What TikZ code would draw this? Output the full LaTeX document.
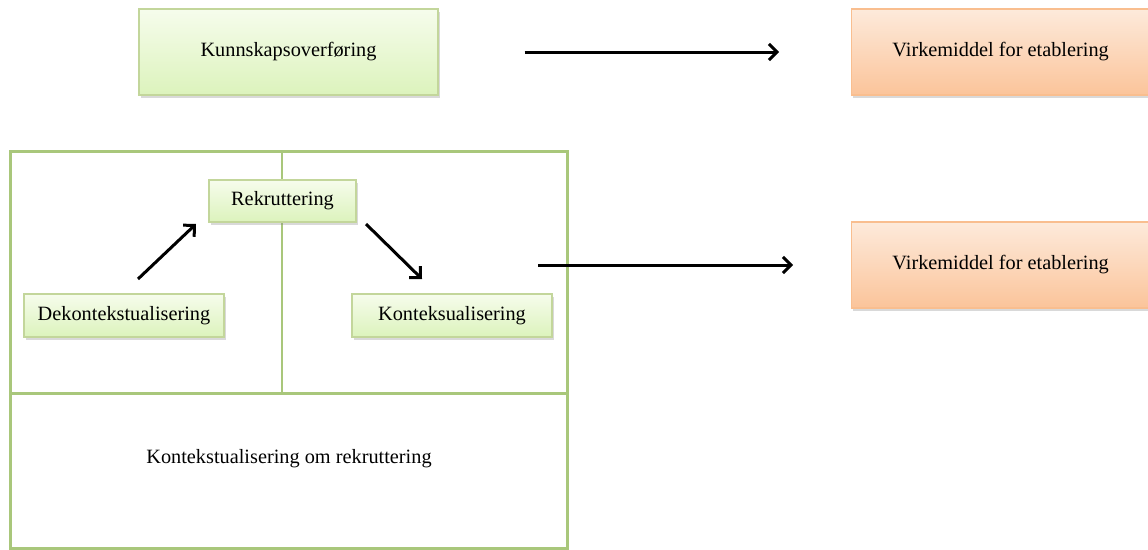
\documentclass[tikz,border=0pt]{standalone}
\usepackage{fontspec}
\setmainfont{Liberation Serif}
\usetikzlibrary{arrows.meta,shadows,calc}
\definecolor{gbord}{HTML}{C3D69B}
\definecolor{gtop}{HTML}{F6FCEC}
\definecolor{gbot}{HTML}{DCF3BC}
\definecolor{obord}{HTML}{F9BE8F}
\definecolor{otop}{HTML}{FDEADB}
\definecolor{obot}{HTML}{FBC49A}
\definecolor{frameg}{HTML}{A9C77B}
\tikzset{
  txt/.style={font=\fontsize{20.3}{23}\selectfont},
  gbox/.style={txt, draw=gbord, line width=1.2pt, top color=gtop, bottom color=gbot,
    drop shadow={shadow xshift=1.5pt, shadow yshift=-2.5pt, opacity=0.3, fill=gray},
    inner sep=0pt},
  obox/.style={txt, draw=obord, line width=1.2pt, top color=otop, bottom color=obot,
    drop shadow={shadow xshift=1.5pt, shadow yshift=-2.5pt, opacity=0.3, fill=gray},
    inner sep=0pt},
  framebox/.style={draw=frameg, line width=3pt, inner sep=0pt},
  divline/.style={draw=frameg, line width=1.5pt},
  arr/.style={line width=3pt, -{Straight Barb[length=8pt,width=16pt,line width=3pt]}},
}
\begin{document}
\begin{tikzpicture}[x=1pt,y=-1pt]
\useasboundingbox (0,0) rectangle (1148,549);
% top row
\node[gbox, minimum width=299pt, minimum height=86pt] (kunn) at (288.5,52) {Kunnskapsoverføring};
\node[obox, minimum width=310pt, minimum height=86pt, anchor=west] (virk1) at (851,52) {\hspace*{-12pt}Virkemiddel for etablering};
\node[obox, minimum width=310pt, minimum height=86pt, anchor=west] (virk2) at (851,265) {\hspace*{-12pt}Virkemiddel for etablering};
\draw[arr, shorten <=86pt, shorten >=72pt] (kunn.east) -- (virk1.west);
% frame
\node[framebox, minimum width=557pt, minimum height=397pt] (frame) at (288.5,349.5) {};
\coordinate (hl) at (10,393);
\coordinate (hr) at (567,393);
\coordinate (vt) at (282,151);
\coordinate (vb) at (282,393);
\draw[divline, line width=3pt] (hl) -- (hr);
\draw[divline] (vt) -- (vb);
\node[txt] (kor) at (289,459) {Kontekstualisering om rekruttering};
% inner boxes
\node[gbox, minimum width=147pt, minimum height=42pt] (rek) at (282.5,201) {Rekruttering};
\node[gbox, minimum width=200pt, minimum height=43pt] (dek) at (124,315.5) {Dekontekstualisering};
\node[gbox, minimum width=200pt, minimum height=43pt] (kon) at (452,315.5) {Konteksualisering};
% arrows
\coordinate (a1s) at (138,279);
\coordinate (a1e) at (196,224);
\coordinate (a2s) at (366,224);
\coordinate (a2e) at (422,279);
\draw[arr] (a1s) -- (a1e);
\draw[arr] (a2s) -- (a2e);
\coordinate (a3s) at (538,265);
\draw[arr, shorten >=58pt] (a3s) -- (virk2.west);
\end{tikzpicture}
\end{document}
